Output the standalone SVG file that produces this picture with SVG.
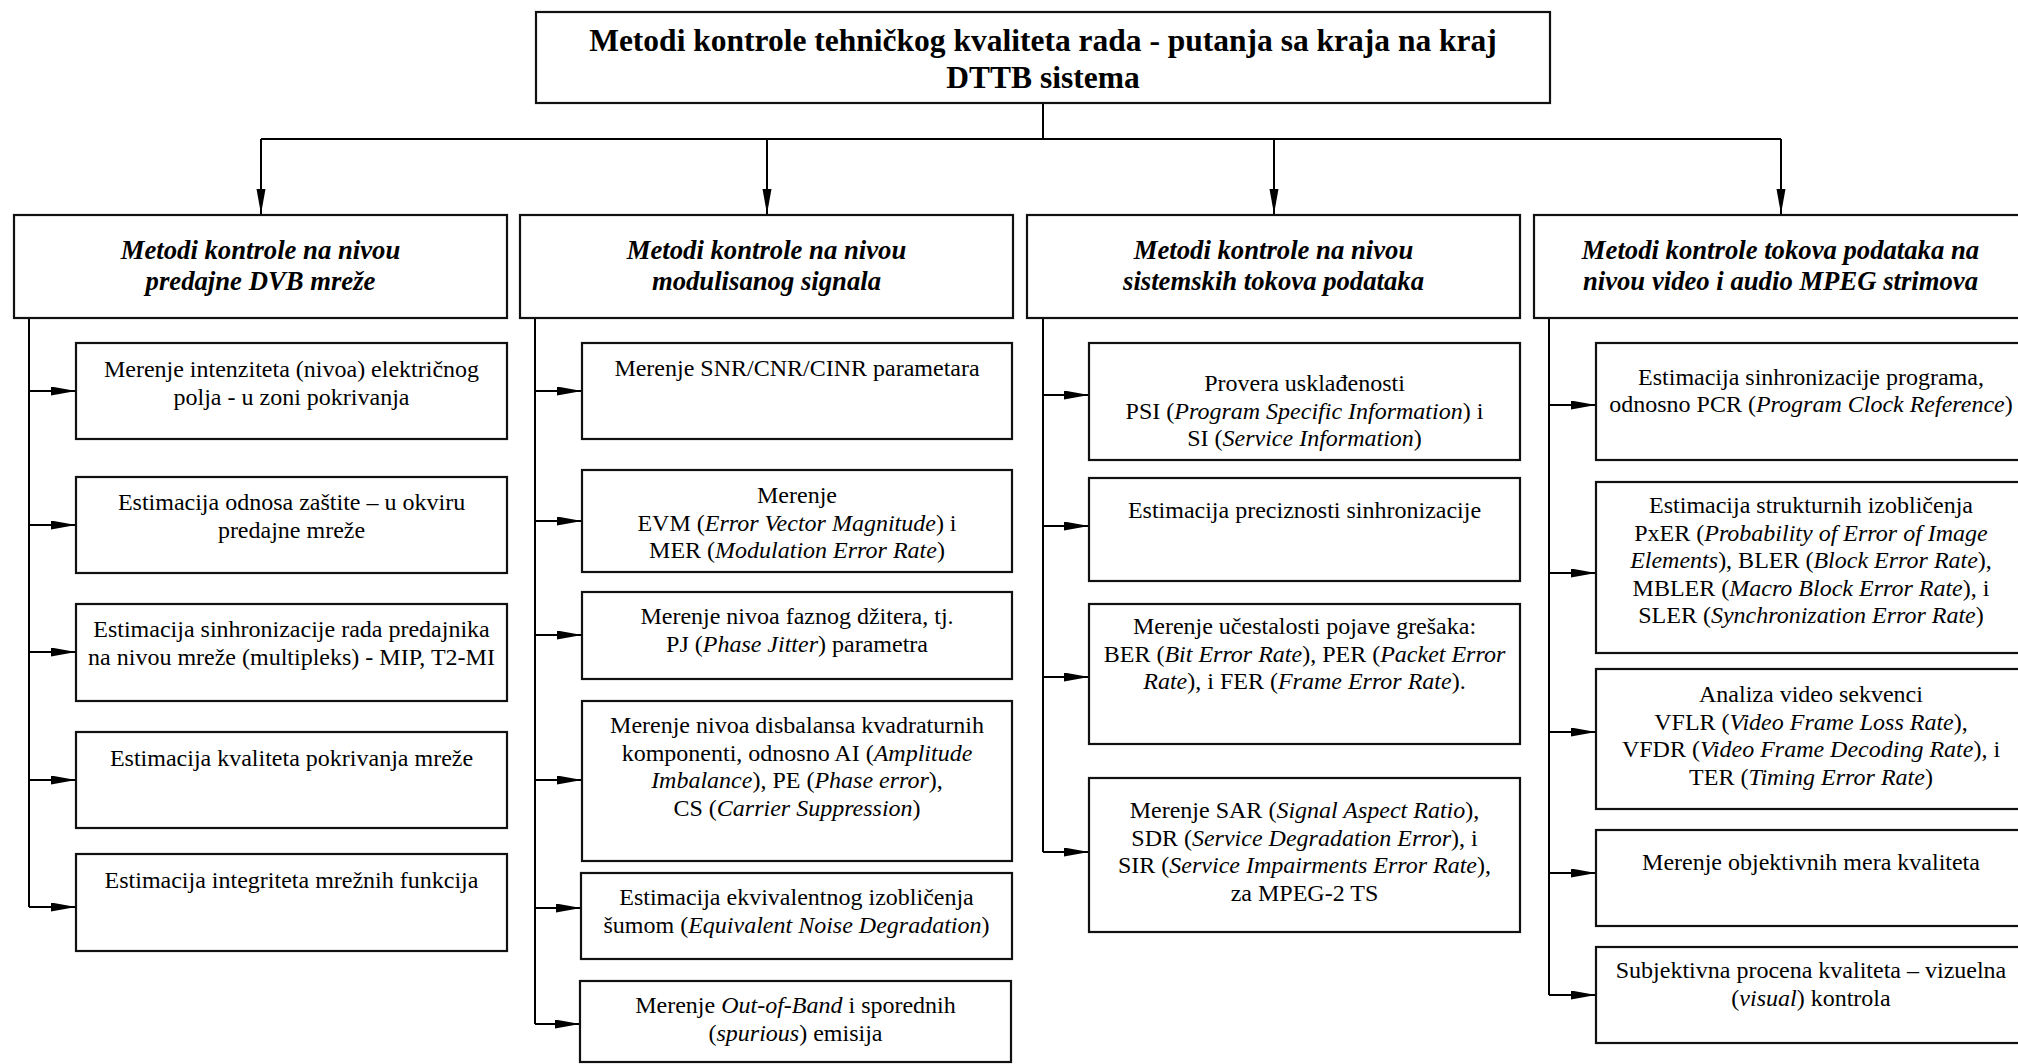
<svg xmlns="http://www.w3.org/2000/svg" width="2018" height="1064" viewBox="0 0 2018 1064">
<defs>
<marker id="ah" markerUnits="userSpaceOnUse" markerWidth="26" markerHeight="10" refX="25" refY="4.5" orient="auto">
<path d="M0,0 L25,4.5 L0,9 z" fill="#000"/>
</marker>
<style>
.box{fill:#fff;stroke:#111;stroke-width:2.2}
.ln{fill:none;stroke:#000;stroke-width:2}
.ar{fill:none;stroke:#000;stroke-width:2;marker-end:url(#ah)}
.t{font-family:"Liberation Serif","Times New Roman",serif;font-size:24px;fill:#000;text-anchor:middle}
.hd{font-family:"Liberation Serif","Times New Roman",serif;font-size:26.7px;font-weight:bold;font-style:italic;fill:#000;text-anchor:middle}
.tt{font-family:"Liberation Serif","Times New Roman",serif;font-size:31.5px;font-weight:bold;fill:#000;text-anchor:middle}
.i{font-style:italic}
</style>
</defs>
<rect width="2018" height="1064" fill="#fff"/>

<g id="connectors">
<path class="ln" d="M1043,103 V139 M261,139 H1781"/>
<path class="ar" d="M261,139 V214"/>
<path class="ar" d="M767,139 V214"/>
<path class="ar" d="M1274,139 V214"/>
<path class="ar" d="M1781,139 V214"/>
<path class="ln" d="M29,318 V907"/>
<path class="ar" d="M29,391 H76"/>
<path class="ar" d="M29,525 H76"/>
<path class="ar" d="M29,652 H76"/>
<path class="ar" d="M29,780 H76"/>
<path class="ar" d="M29,907 H76"/>
<path class="ln" d="M535,318 V1024"/>
<path class="ar" d="M535,391 H582"/>
<path class="ar" d="M535,521 H582"/>
<path class="ar" d="M535,635 H582"/>
<path class="ar" d="M535,780 H582"/>
<path class="ar" d="M535,908 H581"/>
<path class="ar" d="M535,1024 H580"/>
<path class="ln" d="M1043,318 V852"/>
<path class="ar" d="M1043,395 H1089"/>
<path class="ar" d="M1043,526 H1089"/>
<path class="ar" d="M1043,677 H1089"/>
<path class="ar" d="M1043,852 H1089"/>
<path class="ln" d="M1549,318 V995"/>
<path class="ar" d="M1549,405 H1596"/>
<path class="ar" d="M1549,573 H1596"/>
<path class="ar" d="M1549,732 H1596"/>
<path class="ar" d="M1549,873 H1596"/>
<path class="ar" d="M1549,995 H1596"/>
</g>

<g id="root">
<rect class="box" x="536" y="12" width="1014" height="91"/>
<text class="tt" x="1043" y="51">Metodi kontrole tehničkog kvaliteta rada - putanja sa kraja na kraj</text>
<text class="tt" x="1043" y="88">DTTB sistema</text>
</g>

<g id="cat1">
<rect class="box" x="14" y="215" width="493" height="103"/>
<text class="hd" x="260.5" y="259">Metodi kontrole na nivou</text>
<text class="hd" x="260.5" y="290">predajne DVB mreže</text>
</g>
<g id="cat2">
<rect class="box" x="520" y="215" width="493" height="103"/>
<text class="hd" x="766.5" y="259">Metodi kontrole na nivou</text>
<text class="hd" x="766.5" y="290">modulisanog signala</text>
</g>
<g id="cat3">
<rect class="box" x="1027" y="215" width="493" height="103"/>
<text class="hd" x="1273.5" y="259">Metodi kontrole na nivou</text>
<text class="hd" x="1273.5" y="290">sistemskih tokova podataka</text>
</g>
<g id="cat4">
<rect class="box" x="1534" y="215" width="493" height="103"/>
<text class="hd" x="1780.5" y="259">Metodi kontrole tokova podataka na</text>
<text class="hd" x="1780.5" y="290">nivou video i audio MPEG strimova</text>
</g>

<g id="c1a">
<rect class="box" x="76" y="343" width="431" height="96"/>
<text class="t" x="291.5" y="377">Merenje intenziteta (nivoa) električnog</text>
<text class="t" x="291.5" y="404.6">polja - u zoni pokrivanja</text>
</g>
<g id="c1b">
<rect class="box" x="76" y="477" width="431" height="96"/>
<text class="t" x="291.5" y="510">Estimacija odnosa zaštite – u okviru</text>
<text class="t" x="291.5" y="537.6">predajne mreže</text>
</g>
<g id="c1c">
<rect class="box" x="76" y="604" width="431" height="97"/>
<text class="t" x="291.5" y="637">Estimacija sinhronizacije rada predajnika</text>
<text class="t" x="291.5" y="664.6">na nivou mreže (multipleks) - MIP, T2-MI</text>
</g>
<g id="c1d">
<rect class="box" x="76" y="732" width="431" height="96"/>
<text class="t" x="291.5" y="766">Estimacija kvaliteta pokrivanja mreže</text>
</g>
<g id="c1e">
<rect class="box" x="76" y="854" width="431" height="97"/>
<text class="t" x="291.5" y="888">Estimacija integriteta mrežnih funkcija</text>
</g>

<g id="c2a">
<rect class="box" x="582" y="343" width="430" height="96"/>
<text class="t" x="797" y="376">Merenje SNR/CNR/CINR parametara</text>
</g>
<g id="c2b">
<rect class="box" x="582" y="470" width="430" height="102"/>
<text class="t" x="797" y="503">Merenje</text>
<text class="t" x="797" y="530.6">EVM (<tspan class="i">Error Vector Magnitude</tspan>) i</text>
<text class="t" x="797" y="558.2">MER (<tspan class="i">Modulation Error Rate</tspan>)</text>
</g>
<g id="c2c">
<rect class="box" x="582" y="592" width="430" height="87"/>
<text class="t" x="797" y="624">Merenje nivoa faznog džitera, tj.</text>
<text class="t" x="797" y="651.6">PJ (<tspan class="i">Phase Jitter</tspan>) parametra</text>
</g>
<g id="c2d">
<rect class="box" x="582" y="701" width="430" height="160"/>
<text class="t" x="797" y="733">Merenje nivoa disbalansa kvadraturnih</text>
<text class="t" x="797" y="760.6">komponenti, odnosno AI (<tspan class="i">Amplitude</tspan></text>
<text class="t" x="797" y="788.2"><tspan class="i">Imbalance</tspan>), PE (<tspan class="i">Phase error</tspan>),</text>
<text class="t" x="797" y="815.8">CS (<tspan class="i">Carrier Suppression</tspan>)</text>
</g>
<g id="c2e">
<rect class="box" x="581" y="873" width="431" height="86"/>
<text class="t" x="796.5" y="905">Estimacija ekvivalentnog izobličenja</text>
<text class="t" x="796.5" y="932.6">šumom (<tspan class="i">Equivalent Noise Degradation</tspan>)</text>
</g>
<g id="c2f">
<rect class="box" x="580" y="981" width="431" height="81"/>
<text class="t" x="795.5" y="1013">Merenje <tspan class="i">Out-of-Band</tspan> i sporednih</text>
<text class="t" x="795.5" y="1040.6">(<tspan class="i">spurious</tspan>) emisija</text>
</g>

<g id="c3a">
<rect class="box" x="1089" y="343" width="431" height="117"/>
<text class="t" x="1304.5" y="391">Provera usklađenosti</text>
<text class="t" x="1304.5" y="418.6">PSI (<tspan class="i">Program Specific Information</tspan>) i</text>
<text class="t" x="1304.5" y="446.2">SI (<tspan class="i">Service Information</tspan>)</text>
</g>
<g id="c3b">
<rect class="box" x="1089" y="478" width="431" height="103"/>
<text class="t" x="1304.5" y="518">Estimacija preciznosti sinhronizacije</text>
</g>
<g id="c3c">
<rect class="box" x="1089" y="604" width="431" height="140"/>
<text class="t" x="1304.5" y="634">Merenje učestalosti pojave grešaka:</text>
<text class="t" x="1304.5" y="661.6">BER (<tspan class="i">Bit Error Rate</tspan>), PER (<tspan class="i">Packet Error</tspan></text>
<text class="t" x="1304.5" y="689.2"><tspan class="i">Rate</tspan>), i FER (<tspan class="i">Frame Error Rate</tspan>).</text>
</g>
<g id="c3d">
<rect class="box" x="1089" y="778" width="431" height="154"/>
<text class="t" x="1304.5" y="818">Merenje SAR (<tspan class="i">Signal Aspect Ratio</tspan>),</text>
<text class="t" x="1304.5" y="845.6">SDR (<tspan class="i">Service Degradation Error</tspan>), i</text>
<text class="t" x="1304.5" y="873.2">SIR (<tspan class="i">Service Impairments Error Rate</tspan>),</text>
<text class="t" x="1304.5" y="900.8">za MPEG-2 TS</text>
</g>

<g id="c4a">
<rect class="box" x="1596" y="343" width="431" height="117"/>
<text class="t" x="1811" y="385">Estimacija sinhronizacije programa,</text>
<text class="t" x="1811" y="412">odnosno PCR (<tspan class="i">Program Clock Reference</tspan>)</text>
</g>
<g id="c4b">
<rect class="box" x="1596" y="482" width="431" height="171"/>
<text class="t" x="1811" y="513">Estimacija strukturnih izobličenja</text>
<text class="t" x="1811" y="540.6">PxER (<tspan class="i">Probability of Error of Image</tspan></text>
<text class="t" x="1811" y="568.2"><tspan class="i">Elements</tspan>), BLER (<tspan class="i">Block Error Rate</tspan>),</text>
<text class="t" x="1811" y="595.8">MBLER (<tspan class="i">Macro Block Error Rate</tspan>), i</text>
<text class="t" x="1811" y="623.4">SLER (<tspan class="i">Synchronization Error Rate</tspan>)</text>
</g>
<g id="c4c">
<rect class="box" x="1596" y="669" width="431" height="140"/>
<text class="t" x="1811" y="702">Analiza video sekvenci</text>
<text class="t" x="1811" y="729.6">VFLR (<tspan class="i">Video Frame Loss Rate</tspan>),</text>
<text class="t" x="1811" y="757.2">VFDR (<tspan class="i">Video Frame Decoding Rate</tspan>), i</text>
<text class="t" x="1811" y="784.8">TER (<tspan class="i">Timing Error Rate</tspan>)</text>
</g>
<g id="c4d">
<rect class="box" x="1596" y="830" width="431" height="96"/>
<text class="t" x="1811" y="870">Merenje objektivnih mera kvaliteta</text>
</g>
<g id="c4e">
<rect class="box" x="1596" y="947" width="431" height="96"/>
<text class="t" x="1811" y="978">Subjektivna procena kvaliteta – vizuelna</text>
<text class="t" x="1811" y="1005.6">(<tspan class="i">visual</tspan>) kontrola</text>
</g>
</svg>
